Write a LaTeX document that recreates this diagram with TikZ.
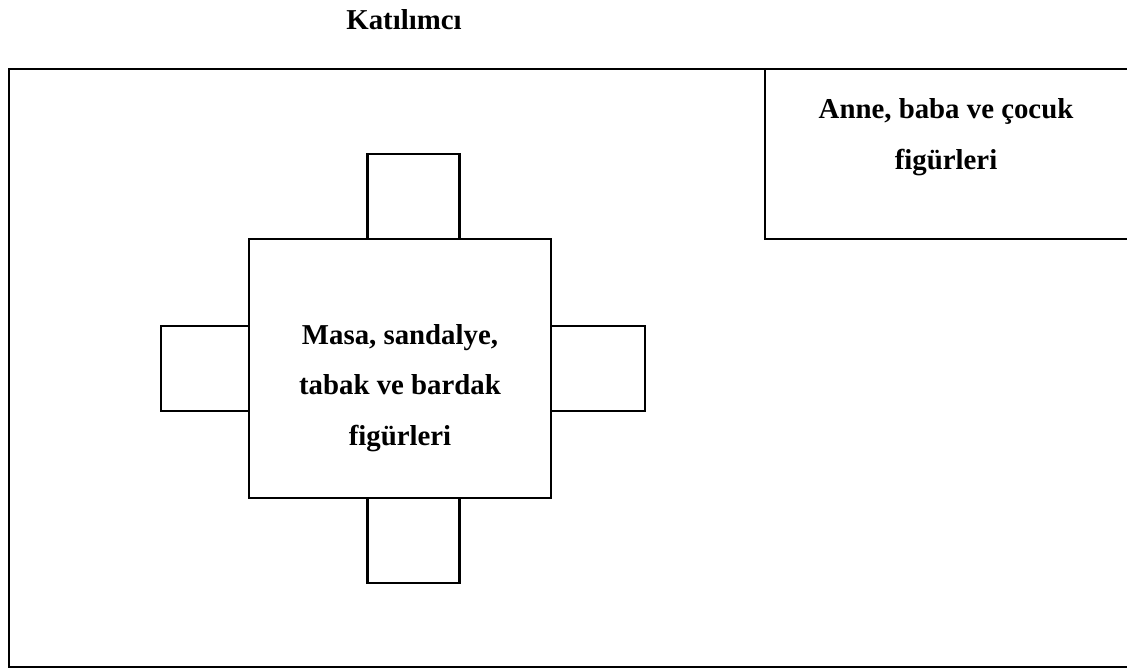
\documentclass[tikz,border=0pt]{standalone}
\usepackage{fontspec}
\setmainfont{Liberation Serif}
\usetikzlibrary{positioning}

\begin{document}
\begin{tikzpicture}[x=1cm,y=1cm,line width=0.6pt,
    masa/.style={shape=rectangle,draw=black,inner sep=0pt,outer sep=0pt,minimum width=3.02cm,minimum height=2.59cm},
    sandalye/.style={shape=rectangle,draw=black,inner sep=0pt,outer sep=0pt,minimum width=0.92cm,minimum height=0.85cm},
    yazi/.style={align=center,font=\fontsize{8.2}{14.3}\selectfont\bfseries}]
        \useasboundingbox (0,0) rectangle (11.27,6.69);

        % oda
        \draw[line width=0.7pt] (11.3,6.00) -- (0.09,6.00) -- (0.09,0.02) -- (11.3,0.02);
        \draw (7.65,6.00) -- (7.65,4.30) -- (11.3,4.30);

        \node[yazi,anchor=base] (katilimci) at (4.04,6.40) {Katılımcı};
        \node[yazi,anchor=base] (aile) at (9.46,5.00) {Anne, baba ve çocuk\\figürleri};

        % masa ve sandalyeler
        \node[masa] (masa) at (4.00,3.005) {};
        \node[sandalye,anchor=south] (s1) at ([xshift=1.35mm]masa.north) {};
        \node[sandalye,anchor=north] (s2) at ([xshift=1.35mm]masa.south) {};
        \node[sandalye,anchor=east,minimum width=0.88cm] (s3) at (masa.west) {};
        \node[sandalye,anchor=west,minimum width=0.94cm] (s4) at (masa.east) {};

        \node[yazi,anchor=base] (figur) at (4.00,2.24) {Masa, sandalye,\\tabak ve bardak\\figürleri};

    \end{tikzpicture}
\end{document}
